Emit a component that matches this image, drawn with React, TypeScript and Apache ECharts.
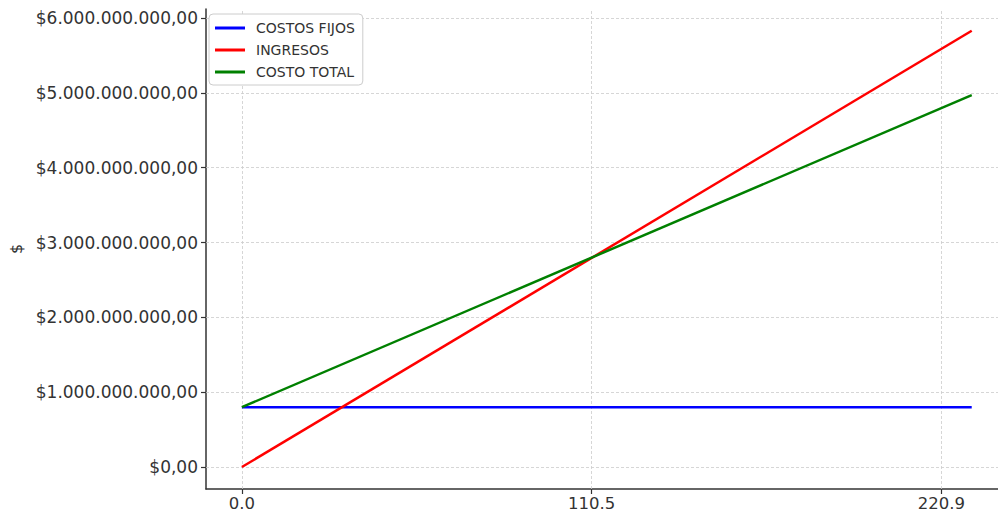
import React, { useEffect, useRef } from "react";
import * as echarts from "echarts";

const xValues = [0, 230.5];
const costosFijos = [800000000, 800000000];
const ingresos = [0, 5830000000];
const costoTotal = [800000000, 4970000000];
const xTickValues = [0, 110.45, 220.9];
const xTickLabels = ["0.0", "110.5", "220.9"];
const yTickValues = [0, 1e9, 2e9, 3e9, 4e9, 5e9, 6e9];
const yTickLabels = [
  "$0,00",
  "$1.000.000.000,00",
  "$2.000.000.000,00",
  "$3.000.000.000,00",
  "$4.000.000.000,00",
  "$5.000.000.000,00",
  "$6.000.000.000,00",
];

export default function App() {
  const ref = useRef<HTMLDivElement>(null);
  useEffect(() => {
    if (!ref.current) return;
    const chart = echarts.init(ref.current, undefined, { renderer: "svg" });
    const font = "DejaVu Sans";
    const gridStyle = { color: "#cccccc", width: 0.8, type: [3, 2] as any };
    const mk = (arr: number[]) => arr.map((v, i) => [xValues[i], v]);
    chart.setOption({
      animation: false,
      backgroundColor: "#ffffff",
      grid: { left: 203, right: 0, top: 9, bottom: 22, containLabel: false },
      legend: {
        orient: "vertical",
        left: 209,
        top: 14,
        backgroundColor: "#ffffff",
        borderColor: "#cccccc",
        borderWidth: 1,
        borderRadius: 4,
        padding: [6, 8, 5, 6],
        itemWidth: 30,
        itemHeight: 3,
        itemGap: 6,
        icon: "rect",
        textStyle: {
          fontFamily: font,
          fontSize: 14,
          color: "#333333",
          lineHeight: 16,
          padding: [0, 0, 0, 6],
        },
        data: ["COSTOS FIJOS", "INGRESOS", "COSTO TOTAL"],
      },
      xAxis: {
        type: "value",
        min: -11.33,
        max: 238.8,
        axisLine: { onZero: false, lineStyle: { color: "#333333", width: 1.5 } },
        axisTick: { customValues: xTickValues, length: 5, lineStyle: { color: "#333333", width: 1.2 } },
        axisLabel: {
          customValues: xTickValues,
          formatter: (v: number) => {
            const i = xTickValues.findIndex((t) => Math.abs(t - v) < 1e-6);
            return i >= 0 ? xTickLabels[i] : "";
          },
          fontFamily: font,
          fontSize: 16.5,
          color: "#333333",
          margin: 6,
        },
        splitLine: { show: false },
      },
      yAxis: {
        type: "value",
        min: -293300000,
        max: 6120000000,
        name: "$",
        nameLocation: "middle",
        nameRotate: 90,
        nameGap: 182,
        nameTextStyle: { fontFamily: font, fontSize: 16, color: "#333333" },
        axisLine: { show: true, onZero: false, lineStyle: { color: "#333333", width: 1.5 } },
        axisTick: { show: true, customValues: yTickValues, length: 5, lineStyle: { color: "#333333", width: 1.2 } },
        axisLabel: {
          customValues: yTickValues,
          formatter: (v: number) => {
            const i = yTickValues.findIndex((t) => Math.abs(t - v) < 1);
            return i >= 0 ? yTickLabels[i] : "";
          },
          fontFamily: font,
          fontSize: 17,
          color: "#333333",
          margin: 8,
        },
        splitLine: { show: false },
      },
      series: [
        {
          name: "COSTOS FIJOS",
          type: "line",
          data: mk(costosFijos),
          showSymbol: false,
          lineStyle: { color: "#0000ff", width: 2.5 },
          itemStyle: { color: "#0000ff" },
          z: 3,
          markLine: {
            silent: true,
            symbol: ["none", "none"],
            label: { show: false },
            lineStyle: gridStyle,
            z: 1,
            data: [
              ...xTickValues.map((v) => ({ xAxis: v })),
              ...yTickValues.map((v) => ({ yAxis: v })),
            ],
          },
        },
        {
          name: "INGRESOS",
          type: "line",
          data: mk(ingresos),
          showSymbol: false,
          lineStyle: { color: "#ff0000", width: 2.5 },
          itemStyle: { color: "#ff0000" },
          z: 3,
        },
        {
          name: "COSTO TOTAL",
          type: "line",
          data: mk(costoTotal),
          showSymbol: false,
          lineStyle: { color: "#008000", width: 2.5 },
          itemStyle: { color: "#008000" },
          z: 3,
        },
      ],
    });
    return () => chart.dispose();
  }, []);
  return <div ref={ref} style={{ width: 998, height: 512, position: "absolute", left: 0, top: 0 }} />;
}
